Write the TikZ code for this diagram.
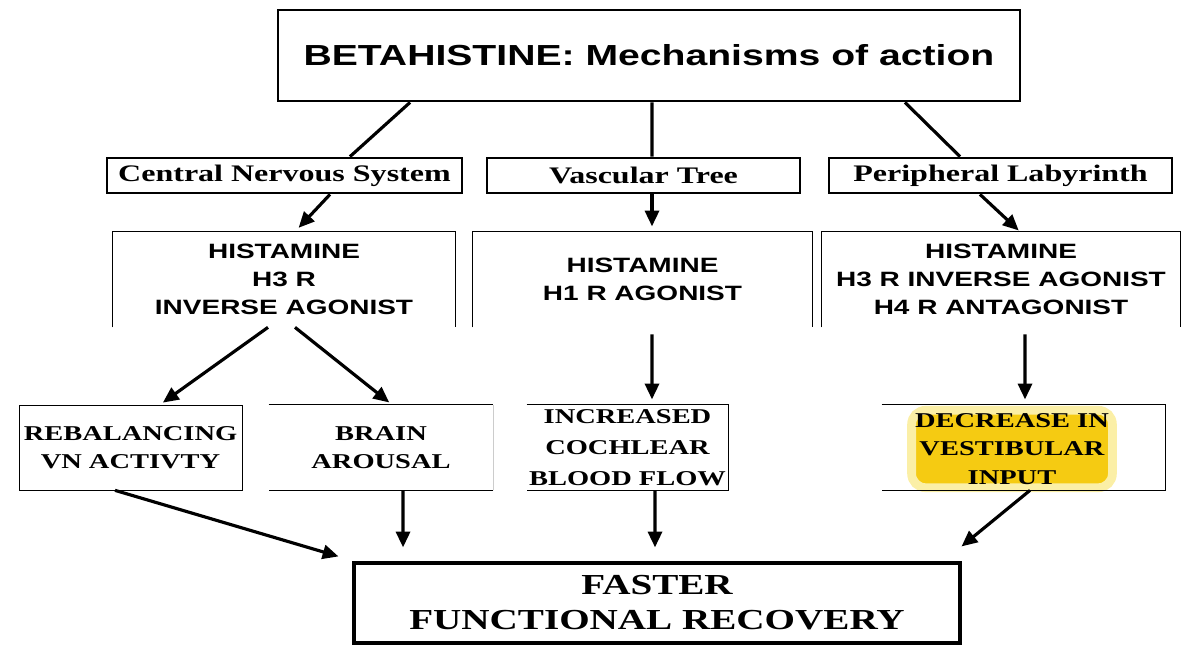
\documentclass[tikz,border=0pt]{standalone}
\usepackage{fontspec}
\setmainfont{Liberation Serif}
\setsansfont{Liberation Sans}
\newfontfamily\widesans[FakeStretch=1.35]{Liberation Sans}
\newfontfamily\wideserif[FakeStretch=1.35]{Liberation Serif}
\usetikzlibrary{arrows.meta}
\definecolor{hilite}{HTML}{F5CB12}
\definecolor{glow}{HTML}{FBEFA6}
\tikzset{>={Triangle[length=9pt,width=8pt]},line width=1.4pt,
  every node/.style={align=center,inner sep=0pt},
  headbox/.style={draw,line width=1.6pt,minimum width=14.84cm,minimum height=1.82cm,
    font=\widesans\bfseries\fontsize{16.5}{20}\selectfont},
  sitebox/.style={draw,line width=1.6pt,minimum height=0.7cm,
    font=\wideserif\bfseries\fontsize{13.5}{15}\selectfont},
  drugbox/.style={minimum height=1.9cm,font=\widesans\bfseries\fontsize{11.8}{16}\selectfont},
  efftext/.style={font=\wideserif\bfseries\fontsize{12}{16}\selectfont},
  effbox/.style={efftext,minimum height=1.7cm},
  endbox/.style={draw,line width=1.8pt,minimum width=12.12cm,minimum height=1.6cm,
    font=\wideserif\bfseries\fontsize{16.5}{20}\selectfont},
  link/.style={line width=1.8pt},
  flow/.style={->,line width=1.8pt}}

\begin{document}
\begin{tikzpicture}[x=0.02cm,y=-0.02cm]
\useasboundingbox (0,0) rectangle (1183,646);
% title and the three sites
\node[headbox] (head) at (649,55.5) {BETAHISTINE: Mechanisms of action};
\node[sitebox,minimum width=7.1cm] (cns) at (284.5,175.5) {Central Nervous System};
\node[sitebox,minimum width=6.26cm] (vasc) at (643.5,175.5) {Vascular Tree};
\node[sitebox,minimum width=6.86cm] (peri) at (1000.5,175.5) {Peripheral Labyrinth};
\draw[link] ([xshift=-4.78cm]head.south) -- ([xshift=1.31cm]cns.north);
\draw[link] ([xshift=0.06cm]head.south) -- ([xshift=0.17cm]vasc.north);
\draw[link] ([xshift=5.12cm]head.south) -- ([xshift=-0.81cm]peri.north);
% receptor boxes, open at the bottom
\node[drugbox,minimum width=6.84cm] (h3) at (284,279.5) {HISTAMINE\\H3 R\\INVERSE AGONIST};
\node[drugbox,minimum width=6.78cm] (h1) at (642.5,279.5) {HISTAMINE\\H1 R AGONIST};
\node[drugbox,minimum width=7.16cm] (h34) at (1001,279.5) {HISTAMINE\\H3 R INVERSE AGONIST\\H4 R ANTAGONIST};
\foreach \b in {h3,h1,h34}
  \draw (\b.south west) -- (\b.north west) -- (\b.north east) -- (\b.south east);
\draw[flow,shorten >=3pt] ([xshift=0.91cm]cns.south) -- ([xshift=0.22cm]h3.north);
\draw[flow,shorten >=3pt] ([xshift=0.17cm]vasc.south) -- ([xshift=0.19cm]h1.north);
\draw[flow,shorten >=1pt] ([xshift=-0.41cm]peri.south) -- ([xshift=0.38cm]h34.north);
% effects
\node[effbox,draw,minimum width=4.46cm] (rebal) at (130.5,447.5) {REBALANCING\\VN ACTIVTY};
\node[effbox,minimum width=4.48cm] (brain) at (381,447.5) {BRAIN\\AROUSAL};
\node[effbox,minimum width=4.02cm,font=\wideserif\bfseries\fontsize{12}{17.5}\selectfont]
  (coch) at (627.5,447.5) {INCREASED\\COCHLEAR\\BLOOD FLOW};
\node[effbox,minimum width=5.66cm] (vest) at (1023.5,447.5) {};
\node[efftext,fill=hilite,draw=glow,line width=5pt,rounded corners=8pt,inner sep=2pt]
  (vestmark) at (1012,449) {DECREASE IN\\VESTIBULAR\\INPUT};
\draw (brain.north west) -- (brain.north east) (brain.south east) -- (brain.south west);
\draw[gray!40,line width=0.8pt] (brain.north east) -- (brain.south east);
\foreach \b in {coch,vest}
  \draw (\b.north west) -- (\b.north east) -- (\b.south east) -- (\b.south west);
\draw[flow,shorten >=2pt] ([xshift=-0.32cm]h3.south) -- ([xshift=0.59cm]rebal.north);
\draw[flow,shorten >=2pt] ([xshift=0.22cm]h3.south) -- ([xshift=0.22cm]brain.north);
\draw[flow,shorten <=4pt,shorten >=3pt] ([xshift=0.19cm]h1.south) -- ([xshift=0.49cm]coch.north);
\draw[flow,shorten <=4pt,shorten >=3pt] ([xshift=0.48cm]h34.south) -- ([xshift=0.03cm]vest.north);
% outcome
\node[endbox] (fast) at (657,603) {FASTER\\FUNCTIONAL RECOVERY};
\draw[flow] ([xshift=-0.31cm]rebal.south) -- ([shift={(-0.28cm,0.1cm)}]fast.north west);
\draw[flow,shorten >=8pt] ([xshift=0.44cm]brain.south) -- ([xshift=-5.08cm]fast.north);
\draw[flow,shorten >=8pt] ([xshift=0.55cm]coch.south) -- ([xshift=-0.04cm]fast.north);
\draw[flow] ([xshift=0.13cm]vest.south) -- ([yshift=0.3cm]fast.north east);
\end{tikzpicture}
\end{document}
